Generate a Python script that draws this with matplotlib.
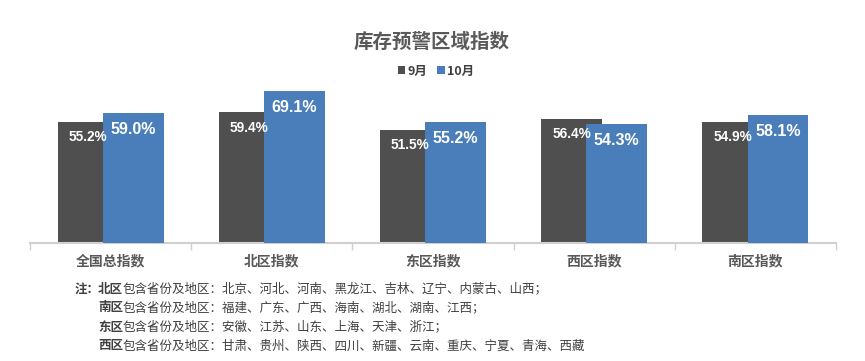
import matplotlib.pyplot as plt
import numpy as np

plt.rcParams['font.family'] = ['Noto Sans CJK SC', 'DejaVu Sans']

categories = ['全国总指数', '北区指数', '东区指数', '西区指数', '南区指数']
sep_values = [55.2, 59.4, 51.5, 56.4, 54.9]
oct_values = [59.0, 69.1, 55.2, 54.3, 58.1]
series_names = ['9月', '10月']

note_lines = [
    ('北区', '包含省份及地区：北京、河北、河南、黑龙江、吉林、辽宁、内蒙古、山西；'),
    ('南区', '包含省份及地区：福建、广东、广西、海南、湖北、湖南、江西；'),
    ('东区', '包含省份及地区：安徽、江苏、山东、上海、天津、浙江；'),
    ('西区', '包含省份及地区：甘肃、贵州、陕西、四川、新疆、云南、重庆、宁夏、青海、西藏'),
]

dark = '#4f4f4f'
blue = '#4a7ebb'
grey_text = '#595959'
num_font = ['Liberation Sans', 'DejaVu Sans']

W, H = 865, 361
fig = plt.figure(figsize=(W / 100, H / 100), dpi=100)
ax = fig.add_axes([30 / W, (H - 243) / H, 806 / W, 154 / H])

x = np.arange(len(categories))
width = 0.378
shift = 0.14

bars1 = ax.bar(x - shift, sep_values, width, color=dark, label=series_names[0], zorder=2)
bars2 = ax.bar(x + shift, oct_values, width, color=blue, label=series_names[1], zorder=3)

# value labels inside the top of each bar
for b, v in zip(bars1, sep_values):
    ax.annotate(f'{v:.1f}%', (b.get_x() + b.get_width() / 2, v), xytext=(0, -11),
                textcoords='offset points', ha='center', va='center', color='white',
                fontsize=9.8, fontweight='bold', family=num_font, zorder=5)
for b, v in zip(bars2, oct_values):
    ax.annotate(f'{v:.1f}%', (b.get_x() + b.get_width() / 2, v), xytext=(0, -12),
                textcoords='offset points', ha='center', va='center', color='white',
                fontsize=11.5, fontweight='bold', family=num_font, zorder=5)

ax.set_xlim(-0.5, len(categories) - 0.5)
ax.set_ylim(0, 70)
for s in ['top', 'right', 'left']:
    ax.spines[s].set_visible(False)
ax.spines['bottom'].set_color('#d0d0d0')
ax.spines['bottom'].set_linewidth(1.5)
ax.set_yticks([])
ax.set_xticks(x)
ax.set_xticklabels(categories, fontsize=10, fontweight='bold', color=grey_text)
ax.tick_params(axis='x', length=0, pad=8)
ax.set_xticks(np.arange(-0.5, len(categories)), minor=True)
ax.tick_params(axis='x', which='minor', length=5, color='#d0d0d0', width=1)

fig.text(432 / W, 1 - 42 / H, '库存预警区域指数', ha='center', va='center',
         fontsize=14, fontweight='bold', color=grey_text)
fig.legend(handles=[bars1, bars2], labels=series_names, loc='center',
           bbox_to_anchor=(436 / W, 1 - 71 / H), ncol=2, frameon=False,
           prop={'size': 9, 'weight': 'bold'}, handlelength=0.6, handleheight=0.6,
           handletextpad=0.2, columnspacing=0.8, labelcolor='#404040')

# notes below the chart
renderer = fig.canvas.get_renderer()
note_color = '#404040'
fig.text(75 / W, 1 - 289 / H, '注：', ha='left', va='center', fontsize=9,
         fontweight='bold', color=note_color)
for i, (region, rest) in enumerate(note_lines):
    y = 1 - (289 + 19 * i) / H
    t = fig.text(98 / W, y, region, ha='left', va='center', fontsize=9,
                 fontweight='bold', color=note_color)
    bb = t.get_window_extent(renderer)
    fig.text(bb.x1 / W, y, rest, ha='left', va='center', fontsize=9,
             color=note_color)

fig.savefig('out.png', dpi=100, facecolor='white')
